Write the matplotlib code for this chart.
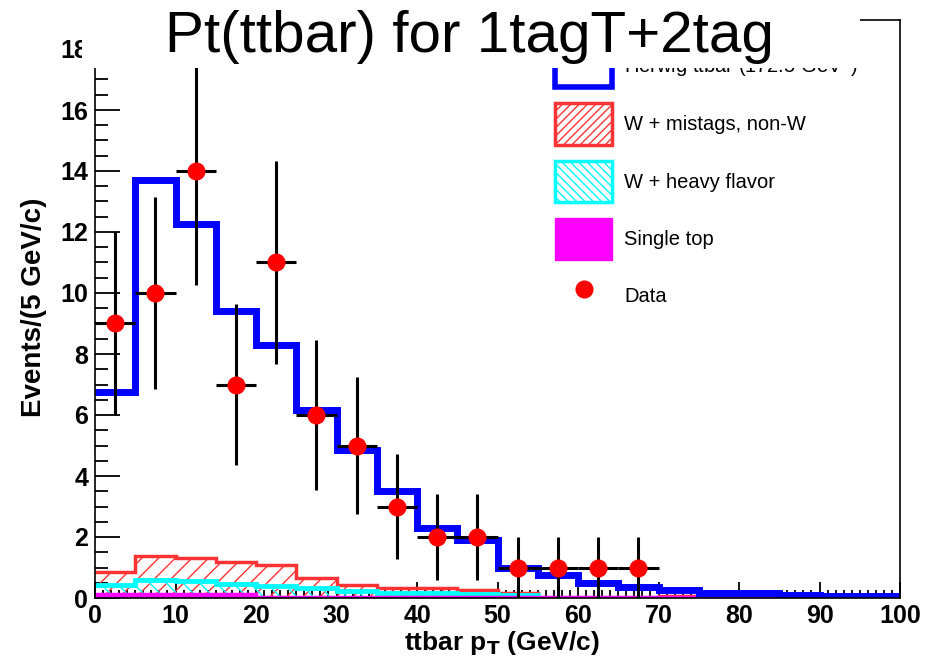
import numpy as np
import matplotlib
matplotlib.use("Agg")
import matplotlib.pyplot as plt
from matplotlib.patches import Patch, Rectangle
from matplotlib.lines import Line2D
from matplotlib.ticker import MultipleLocator

plt.rcParams['font.family'] = ['Liberation Sans', 'DejaVu Sans']
plt.rcParams['hatch.linewidth'] = 1.0

# 5 GeV/c bins from 0 to 100
bin_edges = np.arange(0, 105, 5)

# stacked histograms (cumulative heights as drawn)
ttbar_total = [6.75, 13.7, 12.25, 9.4, 8.3, 6.15, 4.85, 3.5, 2.3, 1.9,
               1.0, 0.75, 0.48, 0.36, 0.27, 0.18, 0.15, 0.1, 0.06, 0.05]
mistag_top = [0.85, 1.38, 1.31, 1.18, 1.08, 0.65, 0.43, 0.33, 0.33, 0.26,
              0.18, 0, 0, 0, 0.08, 0, 0, 0, 0, 0]
hf_top = [0.42, 0.6, 0.56, 0.45, 0.38, 0.32, 0.24, 0.16, 0.15, 0.12,
          0.1, 0, 0, 0, 0, 0, 0, 0, 0, 0]
single_top = [0.12, 0.12, 0.12, 0.12, 0.03, 0.03, 0.03, 0.03, 0.03, 0.03,
              0.03, 0.03, 0.03, 0.03, 0.03, 0.03, 0.03, 0, 0, 0]

# data points
data_x = [2.5, 7.5, 12.5, 17.5, 22.5, 27.5, 32.5, 37.5, 42.5, 47.5, 52.5, 57.5, 62.5, 67.5]
data_y = [9, 10, 14, 7, 11, 6, 5, 3, 2, 2, 1, 1, 1, 1]
data_err = [3.0, 3.16, 3.74, 2.65, 3.32, 2.45, 2.24, 1.73, 1.41, 1.41, 1.0, 1.0, 1.0, 1.0]
data_xerr = 2.5

labels = ["Herwig ttbar (172.5 GeV$^{2}$)", "W + mistags, non-W",
          "W + heavy flavor", "Single top", "Data"]

red = '#ff3333'
cyan = '#00ffff'
blue = '#0000ff'
magenta = '#ff00ff'

fig = plt.figure(figsize=(9.34, 6.61), dpi=100)
ax = fig.add_axes([95/934, 63/661, 805/934, 578/661])

# mistags (hatched red)
ax.stairs(mistag_top, bin_edges, baseline=0, fill=True, facecolor='none',
          edgecolor=red, hatch='//', linewidth=0, zorder=2)
ax.stairs(mistag_top, bin_edges, baseline=None, color=red, lw=2.5, zorder=2.1)
# heavy flavor (hatched cyan)
ax.stairs(hf_top, bin_edges, baseline=0, fill=True, facecolor='none',
          edgecolor=cyan, hatch='\\\\', linewidth=0, zorder=2.2)
ax.stairs(hf_top, bin_edges, baseline=None, color=cyan, lw=3.5, zorder=2.3)
# single top
ax.stairs(single_top, bin_edges, baseline=0, fill=True, color=magenta, zorder=2.4)
ax.stairs(single_top, bin_edges, baseline=None, color=magenta, lw=2.5, zorder=2.4)
# ttbar
ax.stairs(ttbar_total, bin_edges, baseline=None, color=blue, lw=5, zorder=2.5)

ax.errorbar(data_x, data_y, yerr=data_err, xerr=data_xerr, fmt='o',
            color='#ff0000', ecolor='black', elinewidth=2.2, capsize=0,
            markersize=12, zorder=3)

ax.set_xlim(0, 100)
ax.set_ylim(0, 578/30.5)
ax.xaxis.set_major_locator(MultipleLocator(10))
ax.xaxis.set_minor_locator(MultipleLocator(1))
ax.yaxis.set_major_locator(MultipleLocator(2))
ax.yaxis.set_minor_locator(MultipleLocator(0.5))
ax.tick_params(which='both', direction='in', top=False, right=False, width=1.3)
ax.tick_params(axis='x', which='major', length=11.5, pad=4)
ax.tick_params(axis='x', which='minor', length=6)
ax.tick_params(axis='y', which='major', length=18, pad=5)
ax.tick_params(axis='y', which='minor', length=9)
for lab in ax.get_xticklabels() + ax.get_yticklabels():
    lab.set_fontsize(18)
    lab.set_fontweight('bold')
for sp in ax.spines.values():
    sp.set_linewidth(1.2)

fig.text(502/934, (661-643)/661, r"ttbar p$_{\mathbf{T}}$ (GeV/c)", fontsize=19,
         fontweight='bold', ha='center', va='center')
fig.text(34/934, (661-307)/661, "Events/(5 GeV/c)", fontsize=20,
         fontweight='bold', ha='center', va='center', rotation=90)

handles = [
    Patch(facecolor='white', edgecolor=blue, lw=4),
    Patch(facecolor='white', edgecolor=red, hatch='////', lw=2.5),
    Patch(facecolor='white', edgecolor=cyan, hatch='\\\\\\\\', lw=2.5),
    Patch(facecolor=magenta, edgecolor=magenta, lw=1),
    Line2D([], [], marker='o', color='#ff0000', ls='none', markersize=12),
]
leg = ax.legend(handles, labels, loc='upper left',
                bbox_to_anchor=(555/934, (661-46)/661), bbox_transform=fig.transFigure,
                frameon=False, fontsize=14.5, handlelength=2.85, handleheight=2.78,
                labelspacing=0.8, handletextpad=0.6, borderpad=0, borderaxespad=0)
leg.set_zorder(5)

# white title box covering the top of the frame
fig.patches.append(Rectangle((82/934, (661-68)/661), 778/934, 68/661,
                             transform=fig.transFigure, facecolor='white',
                             edgecolor='none', zorder=8))
fig.text(469/934, (661-52)/661, "Pt(ttbar) for 1tagT+2tag", fontsize=42,
         ha='center', va='baseline', zorder=9)

fig.savefig("out.png", dpi=100)
